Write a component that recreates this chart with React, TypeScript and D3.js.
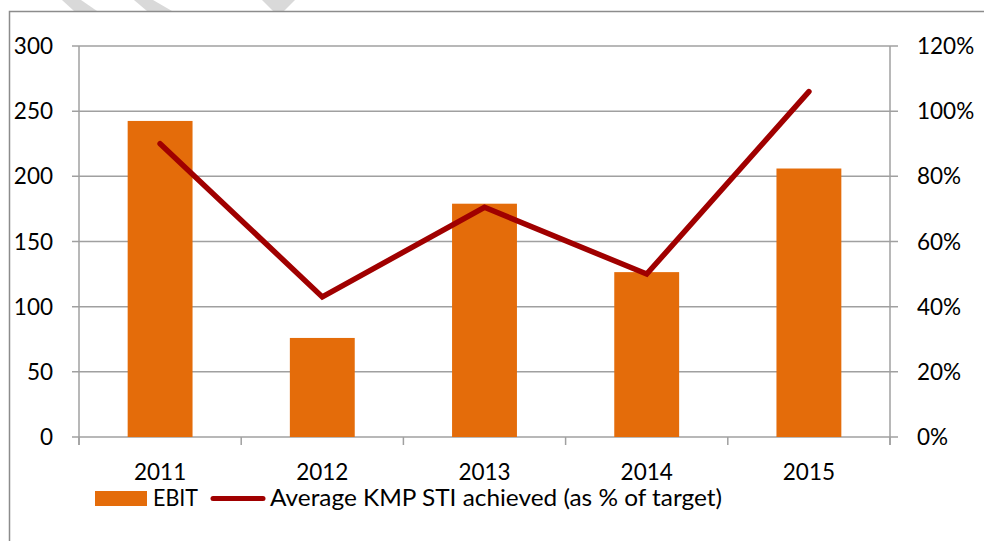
import React from "react";
import * as d3 from "d3";

const years = ["2011", "2012", "2013", "2014", "2015"];
const ebit = [242.5, 76, 179, 126.5, 206];
const stiPct = [90, 43, 70.5, 50, 106];
const leftTicks = [0, 50, 100, 150, 200, 250, 300];
const rightTicks = [0, 20, 40, 60, 80, 100, 120];

const W = 984;
const H = 541;
const margin = { top: 46, left: 79, right: 94, bottom: 104 };
const FONT = "Lato, 'Open Sans', sans-serif";
const GRID = "#a0a0a0";
const BAR = "#e46c0a";
const LINE = "#a00000";

export default function App() {
  const x0 = margin.left;
  const x1 = W - margin.right;
  const y0 = H - margin.bottom;
  const y1 = margin.top;

  const x = d3.scaleBand<string>().domain(years).range([x0, x1]).padding(0);
  const yL = d3.scaleLinear().domain([0, 300]).range([y0, y1]);
  const yR = d3.scaleLinear().domain([0, 120]).range([y0, y1]);

  const barW = x.bandwidth() * 0.4;
  const cx = (d: string) => (x(d) as number) + x.bandwidth() / 2;

  const line = d3
    .line<number>()
    .x((_, i) => cx(years[i]))
    .y((v) => yR(v));

  const boundaries = years.map((d) => x(d) as number).concat([x1]);

  return (
    <svg
      width={W}
      height={H}
      style={{ position: "absolute", left: 0, top: 0, background: "#fff" }}
      fontFamily={FONT}
    >
      {/* watermark fragments */}
      <g fill="#d9d9d9">
        <polygon points="62,0 81,0 97,11 74,11" />
        <polygon points="134,0 153,0 172,11 147,11" />
        <polygon points="262,0 295,0 284,11 273,11" />
      </g>
      <rect x={9.5} y={11.5} width={1000} height={600} fill="none" stroke="#8c8c8c" strokeWidth={1.5} />

      {/* gridlines + left ticks */}
      {leftTicks.map((t) => (
        <line key={"g" + t} x1={x0 - 7} x2={x1 + 8} y1={yL(t)} y2={yL(t)} stroke={GRID} strokeWidth={1.5} />
      ))}
      {/* axes */}
      <line x1={x0} x2={x0} y1={y1} y2={y0 + 8} stroke={GRID} strokeWidth={1.5} />
      <line x1={x1} x2={x1} y1={y1} y2={y0 + 8} stroke={GRID} strokeWidth={1.5} />
      {boundaries.map((b, i) => (
        <line key={"xt" + i} x1={b} x2={b} y1={y0} y2={y0 + 8} stroke={GRID} strokeWidth={1.5} />
      ))}

      {/* bars */}
      {years.map((d, i) => (
        <rect
          key={"b" + d}
          x={cx(d) - barW / 2}
          y={yL(ebit[i])}
          width={barW}
          height={y0 - yL(ebit[i])}
          fill={BAR}
        />
      ))}

      {/* line */}
      <path
        d={line(stiPct) || ""}
        fill="none"
        stroke={LINE}
        strokeWidth={5.5}
        strokeLinecap="round"
        strokeLinejoin="miter"
      />

      {/* left labels */}
      {leftTicks.map((t) => (
        <text key={"l" + t} x={53} y={yL(t) + 8} fontSize={22.5} textAnchor="end" fill="#000">
          {t}
        </text>
      ))}
      {/* right labels */}
      {rightTicks.map((t) => (
        <text key={"r" + t} x={917} y={yR(t) + 8} fontSize={22.5} textAnchor="start" fill="#000">
          {t + "%"}
        </text>
      ))}
      {/* x labels */}
      {years.map((d) => (
        <text key={"x" + d} x={cx(d)} y={480} fontSize={22.5} textAnchor="middle" fill="#000">
          {d}
        </text>
      ))}

      {/* legend */}
      <rect x={95} y={491} width={52} height={15} fill={BAR} />
      <text x={153} y={506} fontSize={22.5} fill="#000" textLength={45} lengthAdjust="spacingAndGlyphs">EBIT</text>
      <line x1={213} x2={263} y1={498.5} y2={498.5} stroke={LINE} strokeWidth={5} strokeLinecap="round" />
      <text x={270} y={506} fontSize={22.5} fill="#000" textLength={452} lengthAdjust="spacingAndGlyphs">
        Average KMP STI achieved (as % of target)
      </text>
    </svg>
  );
}
